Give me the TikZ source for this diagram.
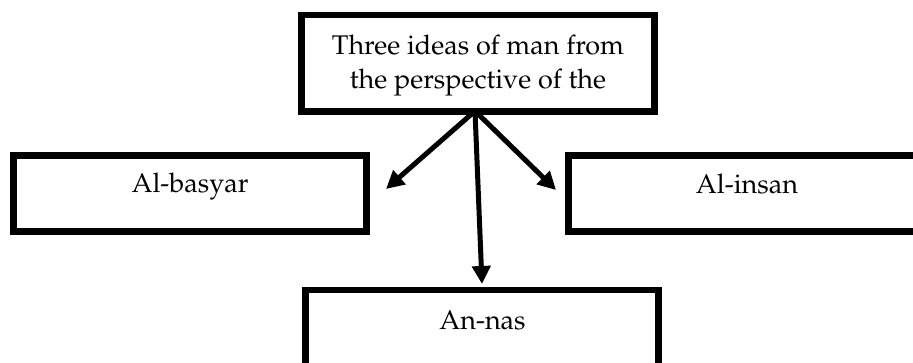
\documentclass[tikz,border=0pt]{standalone}
\usepackage[T1]{fontenc}
\usepackage{mathpazo}
\usetikzlibrary{arrows.meta}
\begin{document}
\begin{tikzpicture}[x=1pt,y=-1pt,
  box/.style={draw=black, line width=6.5pt, inner sep=0pt, minimum width=353pt},
  lbl/.style={font=\fontsize{27}{33}\selectfont, inner sep=0pt, anchor=base},
  arr/.style={line width=5pt, -{Triangle[length=18pt,width=18pt]}}]
\useasboundingbox (0,0) rectangle (913,363);
\node[box, minimum height=96.5pt] (top) at (478,63.25) {};
\node[box, minimum height=76pt] (left) at (190,193.5) {};
\node[box, minimum height=76pt] (right) at (745,193.5) {};
\node[box, minimum height=100pt] (bottom) at (482,340) {};
\node[lbl] (t1) at (478,54.5) {Three ideas of man from};
\node[lbl] (t2) at (478,88.5) {the perspective of the};
\node[lbl] (tl) at (190,193) {Al-basyar};
\node[lbl] (tr) at (747,194) {Al-insan};
\node[lbl] (tb) at (482.5,330) {An-nas};
\coordinate (o) at (475,111);
\coordinate (pl) at (386,189);
\coordinate (pr) at (556,190);
\coordinate (pb) at (482,284);
\draw[arr] (o) -- (pl);
\draw[arr] (o) -- (pr);
\draw[arr] (o) -- (pb);
\end{tikzpicture}
\end{document}
